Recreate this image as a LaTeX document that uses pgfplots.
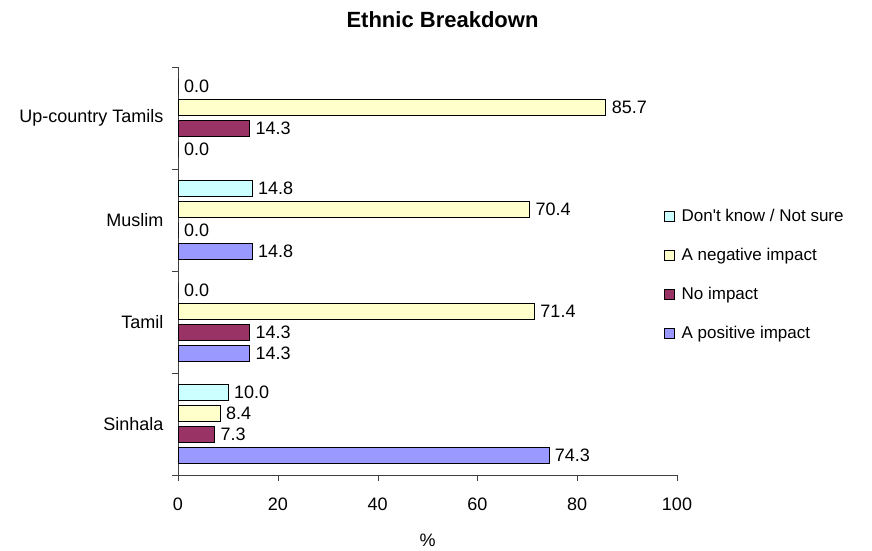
\documentclass[border=0pt]{standalone}
\usepackage{fontspec}
\setmainfont{Liberation Sans}
\usepackage{pgfplots}
\pgfplotsset{compat=1.18}
\definecolor{cpos}{HTML}{9999FF}
\definecolor{cno}{HTML}{993366}
\definecolor{cneg}{HTML}{FFFFCC}
\definecolor{cdk}{HTML}{CCFFFF}
\begin{document}
\begin{tikzpicture}[x=1pt,y=1pt]
\useasboundingbox (0,0) rectangle (872,550);
\node[font=\bfseries\fontsize{22}{24}\selectfont] at (442.5,530) {Ethnic Breakdown};
\begin{axis}[
  at={(178pt,75pt)}, anchor=south west,
  scale only axis, width=499pt, height=408pt,
  xmin=0, xmax=100, ymin=-0.5, ymax=3.5,
  axis lines*=left,
  axis line style={black!75},
  tick align=outside,
  major tick length=6pt,
  tick style={black!75},
  xtick={0,20,...,100},
  ytick={-0.5,0.5,1.5,2.5,3.5}, yticklabels={},
  extra y ticks={0,1,2,3},
  extra y tick labels={Sinhala,Tamil,Muslim,Up-country Tamils},
  extra y tick style={major tick length=0pt},
  font=\fontsize{18}{21}\selectfont,
  ticklabel style={font=\fontsize{18}{21}\selectfont},
  /pgf/number format/assume math mode=true,
  xticklabel style={yshift=-13pt},
  yticklabel style={xshift=-11pt},
  xlabel={\%},
  xlabel style={at={(axis description cs:0.5,0)}, anchor=center, yshift=-65pt},
  clip=false,
  xbar, bar width=0.156,
  point meta=x,
  nodes near coords={\pgfmathprintnumber[fixed,zerofill,precision=1,assume math mode=true]{\pgfplotspointmeta}},
  nodes near coords align={horizontal},
  every node near coord/.append style={font=\fontsize{18}{21}\selectfont, black, inner sep=6pt},
  legend style={draw=none, fill=none, at={(0.974,0.491)}, anchor=west, row sep=21pt, inner sep=0pt,
    font=\fontsize{17}{20}\selectfont},
  legend cell align=left,
  reverse legend,
  legend image code/.code={\draw[#1,draw=black] (0pt,-5pt) rectangle (10pt,5pt); \path (15pt,0pt);},
]
\addplot[fill=cpos, draw=black, bar shift=-0.3075] coordinates {(74.3,0) (14.3,1) (14.8,2) (0.0,3)};
\addplot[fill=cno, draw=black, bar shift=-0.1025] coordinates {(7.3,0) (14.3,1) (0.0,2) (14.3,3)};
\addplot[fill=cneg, draw=black, bar shift=0.1025] coordinates {(8.4,0) (71.4,1) (70.4,2) (85.7,3)};
\addplot[fill=cdk, draw=black, bar shift=0.3075] coordinates {(10.0,0) (0.0,1) (14.8,2) (0.0,3)};
\legend{A positive impact, No impact, A negative impact, Don\textquotesingle t know / Not sure}
\end{axis}
\end{tikzpicture}
\end{document}
